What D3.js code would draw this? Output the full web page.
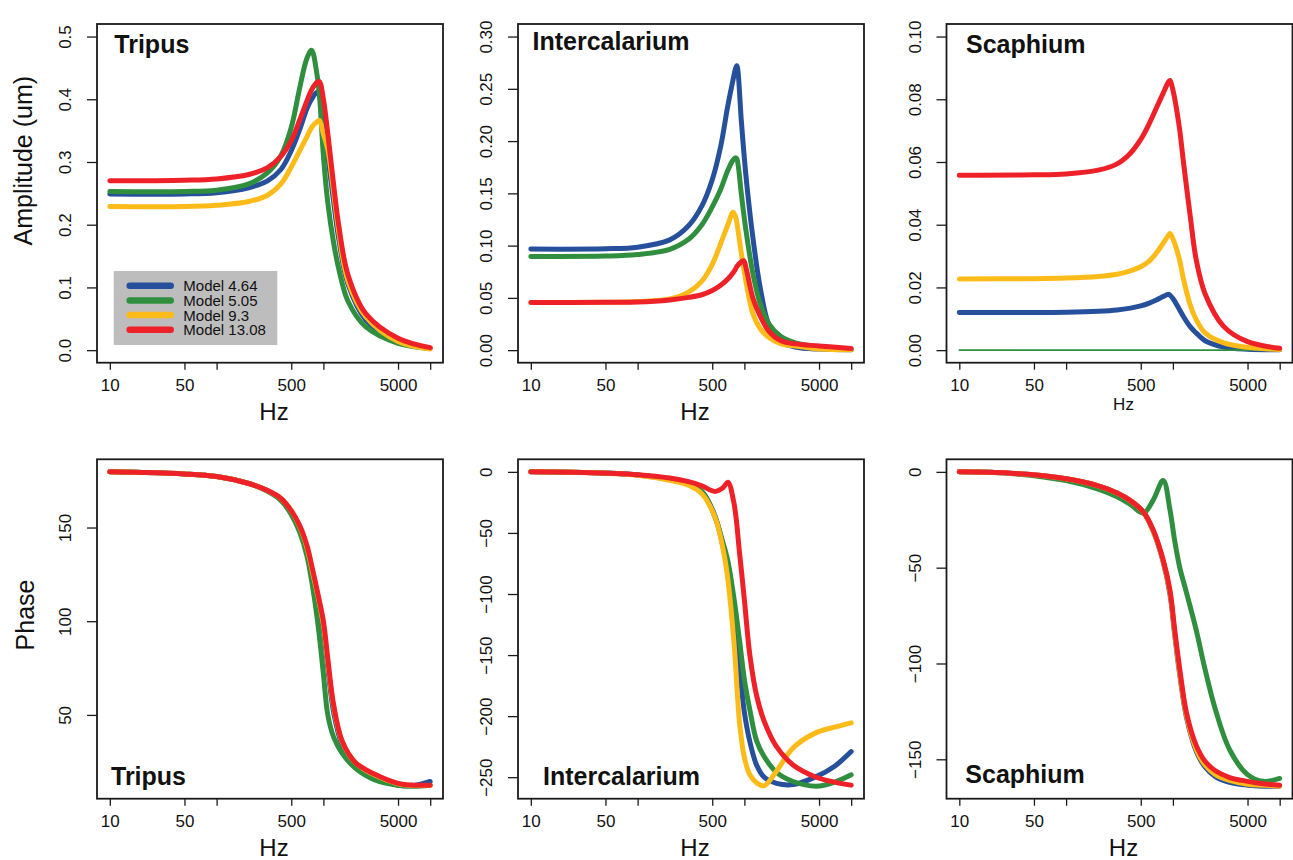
<!DOCTYPE html>
<html lang="en">
<head>
<meta charset="utf-8">
<script src="https://cdn.jsdelivr.net/npm/d3@7"></script>
<style>
  body { margin: 0; background: #fff; }
  text { font-family: "Liberation Sans", Arial, Helvetica, sans-serif; fill: #111; }
</style>
</head>
<body>
<script>
var models = ["Model 4.64", "Model 5.05", "Model 9.3", "Model 13.08"];
var colors = ["#26509b", "#2f8f3f", "#fdbb1a", "#ee2028"];
var xTicks = [10, 50, 100, 500, 1000, 5000, 10000];
var xTickLabels = ["10", "50", "", "500", "", "5000", ""];

// Tripus amplitude (um)
var tripusAmpHz = [10, 50, 100, 200, 300, 400, 500, 600, 700, 775, 870, 920, 1000, 1100, 1250, 1400, 1700, 2500, 5000, 10000];
var tripusAmp464 = [0.249, 0.249, 0.251, 0.259, 0.27, 0.288, 0.318, 0.352, 0.385, 0.40, 0.411, 0.405, 0.37, 0.31, 0.235, 0.175, 0.105, 0.048, 0.014, 0.003];
var tripusAmp505 = [0.253, 0.253, 0.255, 0.265, 0.283, 0.31, 0.355, 0.418, 0.465, 0.478, 0.44, 0.405, 0.31, 0.235, 0.17, 0.128, 0.078, 0.037, 0.011, 0.003];
var tripusAmp93 = [0.229, 0.229, 0.231, 0.237, 0.247, 0.265, 0.292, 0.318, 0.34, 0.355, 0.364, 0.366, 0.345, 0.32, 0.25, 0.186, 0.11, 0.053, 0.014, 0.002];
var tripusAmp1308 = [0.270, 0.271, 0.273, 0.28, 0.291, 0.309, 0.334, 0.367, 0.397, 0.415, 0.427, 0.428, 0.40, 0.345, 0.262, 0.196, 0.12, 0.058, 0.019, 0.004];

// Intercalarium amplitude (um)
var interAmpHz = [10, 50, 100, 200, 300, 400, 500, 600, 700, 784, 830, 850, 935, 987, 1050, 1200, 1400, 1700, 2200, 3000, 5000, 10000];
var interAmp464 = [0.0967, 0.097, 0.0985, 0.1055, 0.119, 0.138, 0.163, 0.195, 0.234, 0.259, 0.27, 0.272, 0.22, 0.19, 0.16, 0.108, 0.061, 0.024, 0.008, 0.003, 0.001, 0.0005];
var interAmp505 = [0.0897, 0.09, 0.0915, 0.0965, 0.106, 0.12, 0.137, 0.154, 0.172, 0.182, 0.184, 0.183, 0.15, 0.13, 0.11, 0.0735, 0.045, 0.025, 0.013, 0.007, 0.003, 0.001];
var interAmp93 = [0.0455, 0.0458, 0.0465, 0.049, 0.0555, 0.066, 0.082, 0.102, 0.12, 0.132, 0.127, 0.122, 0.093, 0.078, 0.062, 0.035, 0.021, 0.012, 0.006, 0.004, 0.001, 0.0003];
var interAmp1308 = [0.0455, 0.0458, 0.046, 0.048, 0.0505, 0.053, 0.057, 0.062, 0.068, 0.074, 0.078, 0.08, 0.0845, 0.0855, 0.076, 0.05, 0.033, 0.018, 0.009, 0.006, 0.004, 0.0015];

// Scaphium amplitude (um)
var scaphAmpHz = [10, 50, 100, 200, 300, 400, 500, 600, 700, 800, 915, 940, 1000, 1150, 1250, 1450, 1650, 2000, 3000, 5000, 10000];
var scaphAmp464 = [0.012, 0.012, 0.0121, 0.0124, 0.0128, 0.0134, 0.0141, 0.015, 0.016, 0.017, 0.0178, 0.0175, 0.0165, 0.013, 0.0108, 0.0075, 0.0055, 0.003, 0.001, 0.0003, 0.0001];
var scaphAmp505 = [0, 0, 0, 0, 0, 0, 0, 0, 0, 0, 0, 0, 0, 0, 0, 0, 0, 0, 0, 0, 0];
var scaphAmp93 = [0.0227, 0.0228, 0.023, 0.0235, 0.0242, 0.0253, 0.0266, 0.0284, 0.031, 0.0338, 0.0368, 0.0372, 0.0355, 0.029, 0.023, 0.0145, 0.0098, 0.0055, 0.0023, 0.0009, 0.0002];
var scaphAmp1308 = [0.0558, 0.0559, 0.0562, 0.0574, 0.0594, 0.0628, 0.0672, 0.0722, 0.0772, 0.0815, 0.0857, 0.086, 0.083, 0.071, 0.0605, 0.043, 0.029, 0.018, 0.0075, 0.0027, 0.0006];

// Tripus phase
var tripusPhHz = [10, 20, 50, 100, 200, 300, 400, 500, 600, 700, 800, 900, 1000, 1100, 1250, 1500, 2000, 3000, 5000, 7000, 10000];
var tripusPh464 = [179.7, 179.4, 178.6, 177.2, 173.5, 169.7, 165.3, 158.5, 150, 138, 123, 109, 95, 75, 51, 34, 23, 17, 12.5, 12.3, 14.5];
var tripusPh505 = [179.7, 179.4, 178.6, 177.2, 173.5, 169.3, 164.5, 157, 147.5, 135, 117, 96, 72, 50, 38, 29.5, 21.5, 15.5, 12.5, 12, 12.5];
var tripusPh93 = [179.7, 179.4, 178.6, 177.2, 173.5, 169.7, 165.5, 159, 150.5, 139.5, 125, 112, 98, 78, 54, 35.5, 24.5, 18, 13.3, 12.4, 12.4];
var tripusPh1308 = [179.7, 179.4, 178.6, 177.2, 173.5, 169.7, 165.5, 159, 151, 140.5, 126.5, 113, 100, 80, 55, 36, 24.5, 18.5, 13.5, 12.5, 12.5];

// Intercalarium phase
var interPhHz = [10, 30, 100, 200, 300, 400, 530, 630, 700, 800, 900, 1000, 1125, 1300, 1530, 2000, 2860, 4700, 7000, 10000];
var interPh464 = [0, -0.5, -2.5, -6, -10, -16, -36, -61, -80, -120, -160, -197, -221, -240, -250, -255, -256, -249.5, -241, -229];
var interPh505 = [0, -0.5, -2.5, -6, -10, -16, -37, -58, -73, -104, -138, -170, -195, -220, -233, -246, -253.5, -257.3, -254, -248];
var interPh93 = [0, -0.5, -2.8, -7, -11, -18, -37, -63, -88, -140, -205, -234, -248, -254.5, -257, -245, -226, -213.5, -209, -205.5];
var interPh1308 = [0, -0.5, -2.3, -5, -8, -11.5, -16, -13, -8.5, -26, -66, -105, -150, -183, -204, -225, -240, -250, -254, -256.5];

// Scaphium phase
var scaphPhHz = [10, 30, 100, 200, 300, 400, 530, 650, 811, 940, 1040, 1160, 1340, 1660, 2000, 2500, 3400, 5000, 7000, 10000];
var scaphPh464 = [0, -0.7, -3.6, -7.3, -11, -15, -21, -30.5, -47, -64, -85, -106, -128, -146, -154, -159, -162, -163.5, -164, -164];
var scaphPh505 = [0, -0.8, -4.5, -9, -13, -17, -21.5, -15, -4.5, -20, -36, -50, -63, -83, -103, -124, -145, -158, -161.5, -160];
var scaphPh93 = [0, -0.7, -3.6, -7.3, -11, -15, -21, -30.5, -46.5, -63, -84, -105, -127, -145, -153, -158, -161, -163, -163.5, -164];
var scaphPh1308 = [0, -0.7, -3.6, -7.3, -11, -15, -21, -30, -46, -62, -82.5, -103, -125.7, -143, -151, -156, -159.5, -161.5, -162.8, -163.5];

var W = 1293, H = 860;
var boxLeft = [97, 518, 946.5], boxW = 346;
var boxTop = [24, 459.3], boxH = [338.7, 339.4];
var ink = "#1a1a1a";

var panels = [
  {row: 0, col: 0, title: "Tripus", hz: tripusAmpHz, series: [tripusAmp464, tripusAmp505, tripusAmp93, tripusAmp1308],
   ylim: [0, 0.5], yTicks: [0, 0.1, 0.2, 0.3, 0.4, 0.5], fmt: ".1f", titleAt: [17.3, 28.7], hzSize: 24},
  {row: 0, col: 1, title: "Intercalarium", hz: interAmpHz, series: [interAmp464, interAmp505, interAmp93, interAmp1308],
   ylim: [0, 0.3], yTicks: [0, 0.05, 0.1, 0.15, 0.2, 0.25, 0.3], fmt: ".2f", titleAt: [14.5, 26], hzSize: 24},
  {row: 0, col: 2, title: "Scaphium", hz: scaphAmpHz, series: [scaphAmp464, scaphAmp505, scaphAmp93, scaphAmp1308],
   ylim: [0, 0.1], yTicks: [0, 0.02, 0.04, 0.06, 0.08, 0.1], fmt: ".2f", titleAt: [19.5, 28.7], hzSize: 17, thin: 1},
  {row: 1, col: 0, title: "Tripus", hz: tripusPhHz, series: [tripusPh464, tripusPh505, tripusPh93, tripusPh1308],
   yTicks: [50, 100, 150], fmt: "d", titleAt: [14, -13.7], hzSize: 24},
  {row: 1, col: 1, title: "Intercalarium", hz: interPhHz, series: [interPh464, interPh505, interPh93, interPh1308],
   yTicks: [0, -50, -100, -150, -200, -250], fmt: "d", titleAt: [25, -13.7], hzSize: 24},
  {row: 1, col: 2, title: "Scaphium", hz: scaphPhHz, series: [scaphPh464, scaphPh505, scaphPh93, scaphPh1308],
   yTicks: [0, -50, -100, -150], fmt: "d", titleAt: [18.8, -15.4], hzSize: 24}
];

var svg = d3.select("body").append("svg")
    .attr("width", W)
    .attr("height", H);

panels.forEach(function(p) {
  var left = boxLeft[p.col], top = boxTop[p.row], h = boxH[p.row];

  // R style log axis with 4% padding on each side
  var x = d3.scaleLog()
      .domain([Math.pow(10, 0.88), Math.pow(10, 4.12)])
      .range([left, left + boxW]);

  var lim = p.ylim || d3.extent(d3.merge(p.series));
  var pad = (lim[1] - lim[0]) * 0.04;
  var y = d3.scaleLinear()
      .domain([lim[0] - pad, lim[1] + pad])
      .range([top + h, top]);

  var g = svg.append("g");

  // curves
  p.series.forEach(function(vals, k) {
    var line = d3.line()
        .x(function(d, i) { return x(p.hz[i]); })
        .y(function(d) { return y(d); })
        .curve(d3.curveCatmullRom.alpha(0.5));
    g.append("path")
        .datum(vals)
        .attr("d", line)
        .attr("fill", "none")
        .attr("stroke", colors[k])
        .attr("stroke-width", p.thin === k ? 1.6 : 5)
        .attr("stroke-linecap", "round")
        .attr("stroke-linejoin", "round");
  });

  // frame
  g.append("rect")
      .attr("x", left).attr("y", top)
      .attr("width", boxW).attr("height", h)
      .attr("fill", "none")
      .attr("stroke", ink)
      .attr("stroke-width", 1.8);

  // x axis
  var xAxis = d3.axisBottom(x)
      .tickValues(xTicks)
      .tickFormat(function(d, i) { return xTickLabels[i]; })
      .tickSize(7)
      .tickSizeOuter(0);
  var gx = g.append("g")
      .attr("transform", "translate(0," + (top + h) + ")")
      .call(xAxis);
  gx.select(".domain").remove();
  gx.selectAll("line").attr("stroke", ink).attr("stroke-width", 1.3);
  gx.selectAll("text")
      .attr("y", 28).attr("dy", null)
      .attr("font-size", 17)
      .attr("font-family", "Liberation Sans, Arial, sans-serif")
      .attr("fill", ink);

  // y axis
  var yAxis = d3.axisLeft(y)
      .tickValues(p.yTicks)
      .tickFormat(d3.format(p.fmt))
      .tickSize(10)
      .tickSizeOuter(0);
  var gy = g.append("g")
      .attr("transform", "translate(" + left + ",0)")
      .call(yAxis);
  gy.select(".domain").remove();
  gy.selectAll("line").attr("stroke", ink).attr("stroke-width", 1.3);
  gy.selectAll("text")
      .attr("x", 0).attr("y", -26).attr("dy", null)
      .attr("transform", "rotate(-90)")
      .attr("text-anchor", "middle")
      .attr("font-size", 17)
      .attr("font-family", "Liberation Sans, Arial, sans-serif")
      .attr("fill", ink);

  // panel title
  var ty = p.row === 0 ? top + p.titleAt[1] : top + h + p.titleAt[1];
  g.append("text")
      .attr("x", left + p.titleAt[0])
      .attr("y", ty)
      .attr("font-size", 25)
      .attr("font-weight", "bold")
      .text(p.title);

  // x axis title
  g.append("text")
      .attr("x", left + boxW / 2 + 4)
      .attr("y", p.hzSize === 24 ? top + h + 57.6 : top + h + 47.3)
      .attr("text-anchor", "middle")
      .attr("font-size", p.hzSize)
      .text("Hz");
});

// y axis titles
svg.append("text")
    .attr("transform", "translate(31.7,160.7) rotate(-90)")
    .attr("text-anchor", "middle")
    .attr("font-size", 25)
    .text("Amplitude (um)");

svg.append("text")
    .attr("transform", "translate(34,615) rotate(-90)")
    .attr("text-anchor", "middle")
    .attr("font-size", 25)
    .text("Phase");

// legend in the Tripus amplitude panel
var legend = svg.append("g").attr("transform", "translate(113.7,271)");
legend.append("rect")
    .attr("width", 163.6)
    .attr("height", 74)
    .attr("fill", "#bdbdbd");

var item = legend.selectAll(".item")
    .data(models)
    .enter()
    .append("g")
    .attr("class", "item")
    .attr("transform", function(d, i) { return "translate(0," + (14.7 + i * 14.7) + ")"; });

item.append("line")
    .attr("x1", 16).attr("x2", 57)
    .attr("stroke", function(d, i) { return colors[i]; })
    .attr("stroke-width", 6.5)
    .attr("stroke-linecap", "round");

item.append("text")
    .attr("x", 69.6)
    .attr("dy", "0.36em")
    .attr("font-size", 15)
    .text(function(d) { return d; });
</script>
</body>
</html>
